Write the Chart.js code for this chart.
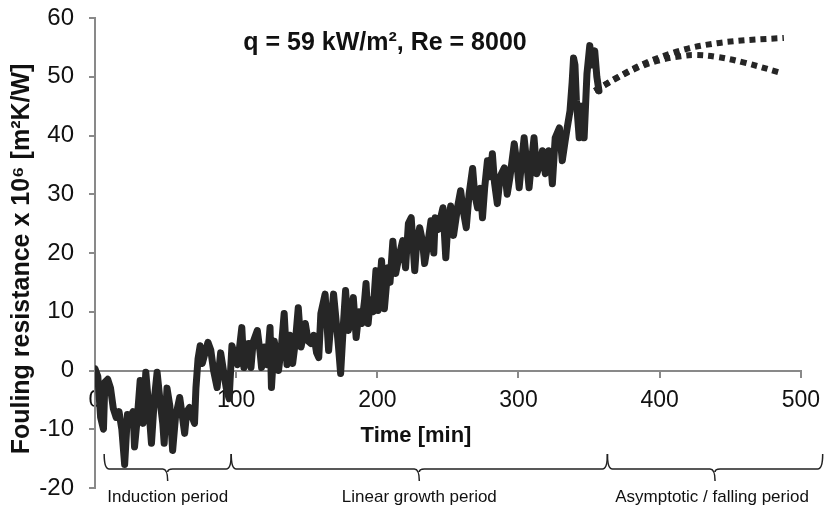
<!DOCTYPE html>
<html lang="en">
<head>
<meta charset="UTF-8">
<title>Fouling resistance vs time</title>
<script src="https://cdn.jsdelivr.net/npm/chart.js@4.4.0/dist/chart.umd.min.js"></script>
<style>
  html, body { margin: 0; padding: 0; background: #fff; }
  #wrap { width: 830px; height: 513px; }
</style>
</head>
<body>
<div id="wrap"><canvas id="foulingChart" width="830" height="513"></canvas></div>
<script>
// measured fouling resistance (x 10^6 m2K/W) against time (min)
const timeMin = [
  0, 2, 4, 6, 7, 9, 11, 13, 15, 17, 19, 21, 23, 25, 27, 28, 30, 32, 34, 36,
  38, 40, 42, 44, 46, 48, 49, 51, 53, 55, 57, 60, 62, 63.5, 65, 67, 69, 70.5, 71.5, 73,
  74.5, 76, 78, 80, 82, 84, 86.5, 89, 91, 93, 95, 97, 99, 101, 104, 105.5, 107, 109, 110.5, 112,
  115, 117, 118, 120, 122, 124, 125, 127, 128.5, 130, 132, 134, 136, 138, 140, 142, 144, 146, 149, 151,
  153, 155, 157, 158.5, 160, 163, 165.5, 167, 169, 171, 172.5, 174, 176, 177.5, 179.5, 181, 183, 185, 187, 189,
  191, 192, 193.5, 195, 197, 199, 200.5, 203, 205, 207.5, 209, 211, 213, 215, 218, 220, 222, 224, 226.5, 228,
  230, 232, 233.5, 236, 238, 240, 241, 243, 246.5, 248.5, 250, 252, 254, 257, 259, 261, 263, 265, 267.5, 269,
  271, 273, 274.5, 276, 278, 280, 281.5, 283, 285, 287, 290, 292, 294, 297, 299, 300.5, 302, 304, 306, 307.5,
  309, 311, 313, 315, 317, 319, 320, 321.5, 323, 324, 326, 329, 331, 333, 334.5, 336.5, 338, 339, 340, 341,
  343, 344.5, 346.5, 348.5, 350.5, 352, 354, 355.5, 357
];
const foulingR = [
  0.3, -1, -8, -10, -2, -1.5, -3, -6.5, -8, -7, -10, -16, -7.5, -8, -7, -13, -8, -1.7, -9, -0.3,
  -6, -12.4, -5, -0.3, -5, -9, -12.4, -3, -6, -13.6, -8, -4.6, -8, -10.7, -7, -6.3, -8, -9, -3, 2,
  4.2, 1.2, 3, 4.8, 3.5, 0, -2.9, 3, 0, -3, -4.8, 4.2, 2.5, 1, 7.3, 0.5, 4.5, 4.6, 0.5, 4.8,
  6.8, 3, 0.5, 4, 1, 7.3, -2.9, 5, 2.5, 0, 4, 9.7, 1, 6, 1.2, 5, 10.7, 4, 8, 5,
  4.6, 6, 3, 2.2, 9.7, 13, 3.4, 8, 13, 8, 4, -0.5, 8, 13.6, 6.8, 9, 12.4, 5.6, 10, 8,
  12, 14.8, 8, 12, 10, 17, 10.2, 18.7, 10.5, 17.5, 15, 22, 16.5, 19, 22.1, 17.5, 25, 26, 17, 22,
  24.3, 22, 18.2, 22, 25.5, 20, 26, 24, 27.7, 19.2, 25, 28, 23, 28, 30.6, 27, 24.3, 30, 34.4, 30,
  27.7, 31, 26, 31, 35.7, 33, 36.9, 32, 28.4, 33, 34.5, 30, 33, 38.6, 35, 31.1, 35, 39.6, 35, 31.1,
  35, 39.6, 33.5, 35, 37.4, 33.5, 35, 37.4, 35, 31.8, 39.6, 41.3, 35.7, 39, 41.3, 44.2, 49, 53.2, 52, 46,
  39.6, 45, 39.6, 50.5, 55.3, 52, 54.4, 50, 47.6
];

// dotted extrapolations: asymptotic and falling
const asymTime = [354, 370, 385, 400, 420, 440, 460, 488];
const asymR = [47.6, 49.9, 51.8, 53.3, 54.8, 55.7, 56.2, 56.6];
const fallTime = [354, 370, 385, 400, 415, 425, 440, 460, 484];
const fallR = [47.6, 49.8, 51.6, 52.8, 53.5, 53.7, 53.4, 52.4, 50.8];

// period braces under the axis (bounds in minutes)
const periodLabels = ['Induction period', 'Linear growth period', 'Asymptotic / falling period'];
const periodBounds = [6.5, 96.5, 363, 515.5];

const xMin = 0, xMax = 500, xStep = 100;
const yMin = -20, yMax = 60, yStep = 10;

const ink = '#262626';
const axisGrey = '#898989';
const fontFamily = '"Liberation Sans", Arial, sans-serif';

function toPoints(xs, ys) {
    return xs.map((t, i) => ({ x: t, y: ys[i] }));
}

// titles and braces drawn on top
const annotations = {
    id: 'annotations',
    afterDraw(chart) {
        const { ctx, scales: { x } } = chart;
        ctx.save();
        ctx.fillStyle = '#111';
        ctx.textAlign = 'center';
        ctx.textBaseline = 'middle';

        ctx.font = 'bold 25px ' + fontFamily;
        ctx.fillText('q = 59 kW/m², Re = 8000', 385, 43);

        ctx.font = 'bold 22px ' + fontFamily;
        ctx.fillText('Time [min]', 416, 436);

        // y axis title
        ctx.save();
        ctx.translate(22, 259);
        ctx.rotate(-Math.PI / 2);
        ctx.font = 'bold 25px ' + fontFamily;
        ctx.fillText('Fouling resistance x 10⁶ [m²K/W]', 0, 0);
        ctx.restore();

        // curly braces
        ctx.strokeStyle = '#222';
        ctx.lineWidth = 1.5;
        const top = 454, mid = 469, tip = 481, r = 5;
        ctx.font = '17px ' + fontFamily;
        for (let i = 0; i < periodLabels.length; i++) {
            const a = x.getPixelForValue(periodBounds[i]);
            const b = x.getPixelForValue(periodBounds[i + 1]);
            const c = (a + b) / 2;
            ctx.beginPath();
            ctx.moveTo(a, top);
            ctx.quadraticCurveTo(a, mid, a + r, mid);
            ctx.lineTo(c - r, mid);
            ctx.quadraticCurveTo(c, mid, c, tip);
            ctx.moveTo(c, mid + 3);
            ctx.quadraticCurveTo(c, mid, c + r, mid);
            ctx.lineTo(b - r, mid);
            ctx.quadraticCurveTo(b, mid, b, top);
            ctx.stroke();
            ctx.fillText(periodLabels[i], c - (i === 2 ? 3 : 0), 497);
        }
        ctx.restore();
    }
};

const ctx = document.getElementById('foulingChart').getContext('2d');
const foulingChart = new Chart(ctx, {
    type: 'line',
    data: {
        datasets: [
            {
                label: 'Measured',
                data: toPoints(timeMin, foulingR),
                borderColor: ink,
                borderWidth: 7,
                borderJoinStyle: 'round',
                borderCapStyle: 'round',
                pointRadius: 0,
                tension: 0
            },
            {
                label: 'Asymptotic',
                data: toPoints(asymTime, asymR),
                borderColor: ink,
                borderWidth: 6,
                borderDash: [6, 5],
                pointRadius: 0,
                cubicInterpolationMode: 'monotone'
            },
            {
                label: 'Falling',
                data: toPoints(fallTime, fallR),
                borderColor: ink,
                borderWidth: 6,
                borderDash: [6, 5],
                pointRadius: 0,
                tension: 0.4
            }
        ]
    },
    options: {
        responsive: false,
        animation: false,
        devicePixelRatio: 1,
        // the x axis sits on y = 0 and takes no room, so reserve the bottom here
        layout: { padding: { top: 18, right: 25, bottom: 25, left: 0 } },
        plugins: {
            legend: { display: false },
            tooltip: { enabled: false }
        },
        scales: {
            x: {
                type: 'linear',
                position: { y: 0 },
                min: xMin,
                max: xMax,
                border: { color: axisGrey, width: 2 },
                grid: { drawOnChartArea: false, tickLength: 6, tickColor: axisGrey, lineWidth: 2 },
                ticks: {
                    stepSize: xStep,
                    padding: 10,
                    color: '#111',
                    font: { family: fontFamily, size: 23 }
                }
            },
            y: {
                min: yMin,
                max: yMax,
                afterFit: (scale) => {
                    scale.width = 95;
                    scale.paddingTop = 0;
                    scale.paddingBottom = 0;
                },
                border: { color: axisGrey, width: 2 },
                grid: { drawOnChartArea: false, tickLength: 6, tickColor: axisGrey, lineWidth: 2 },
                ticks: {
                    stepSize: yStep,
                    padding: 15,
                    color: '#111',
                    font: { family: fontFamily, size: 24 }
                }
            }
        }
    },
    plugins: [annotations]
});
</script>
</body>
</html>
